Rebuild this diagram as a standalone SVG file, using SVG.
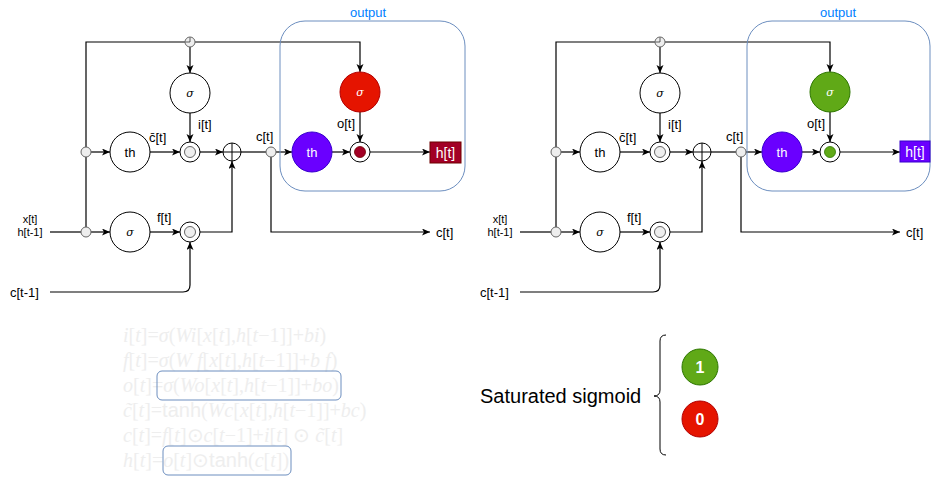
<svg xmlns="http://www.w3.org/2000/svg" width="932" height="477" viewBox="0 0 932 477">
<defs>
<marker id="arr" markerUnits="userSpaceOnUse" markerWidth="9" markerHeight="8" refX="8" refY="3.5" orient="auto">
<path d="M0,0 L8,3.5 L0,7 L2,3.5 z" fill="#000"/>
</marker>
</defs>
<style>
text{font-family:"Liberation Sans",Arial,sans-serif;}
.ln{fill:none;stroke:#000;stroke-width:1.2;}
.a{marker-end:url(#arr);}
.node{fill:#fff;stroke:#000;stroke-width:1;}
.jn{fill:#eee;stroke:#666;stroke-width:1;}
.lbl{font-size:13px;fill:#000;}
.ntx{font-size:13px;text-anchor:middle;}
.sig{font-size:11px;font-style:italic;text-anchor:middle;font-family:"DejaVu Serif","Liberation Serif",serif;}
.box{fill:none;stroke:#6C8EBF;stroke-width:1;}
.out{font-size:13px;fill:#007FFF;text-anchor:middle;}
.eq{font-family:"Liberation Serif","Times New Roman",serif;font-size:20px;fill:#EEEEEE;}
.eq .i{font-style:italic;}
.up{font-family:"Liberation Sans",Arial,sans-serif;}
.wt{fill:#fff;}
</style>

<g id="connectors">
<!-- left -->
<path class="ln" d="M50,232 H81"/>
<path class="ln a" d="M91,232 H110"/>
<path class="ln" d="M86,227 V157 M86,147 V42 H185"/>
<path class="ln a" d="M195,42 H360 V72"/>
<path class="ln a" d="M190,47 V73"/>
<path class="ln a" d="M91,152 H110"/>
<path class="ln a" d="M150,152 H180"/>
<path class="ln a" d="M190,113 V142"/>
<path class="ln a" d="M200,152 H223"/>
<path class="ln" d="M241,152 H266"/>
<path class="ln a" d="M276,152 H292"/>
<path class="ln a" d="M332,152 H350"/>
<path class="ln a" d="M360,112 V142"/>
<path class="ln a" d="M370,152 H430"/>
<path class="ln a" d="M271,157 V232 H430"/>
<path class="ln a" d="M150,232 H180"/>
<path class="ln a" d="M200,232 H232 V161"/>
<path class="ln a" d="M50,292 H183 Q190,292 190,285 V242"/>
<!-- right -->
<path class="ln" d="M520,232 H551"/>
<path class="ln a" d="M561,232 H580"/>
<path class="ln" d="M556,227 V157 M556,147 V42 H655"/>
<path class="ln a" d="M665,42 H830 V72"/>
<path class="ln a" d="M660,47 V73"/>
<path class="ln a" d="M561,152 H580"/>
<path class="ln a" d="M620,152 H650"/>
<path class="ln a" d="M660,113 V142"/>
<path class="ln a" d="M670,152 H693"/>
<path class="ln" d="M711,152 H736"/>
<path class="ln a" d="M746,152 H762"/>
<path class="ln a" d="M802,152 H820"/>
<path class="ln a" d="M830,112 V142"/>
<path class="ln a" d="M840,152 H900"/>
<path class="ln a" d="M741,157 V232 H900"/>
<path class="ln a" d="M620,232 H650"/>
<path class="ln a" d="M670,232 H702 V161"/>
<path class="ln a" d="M520,292 H653 Q660,292 660,285 V242"/>
</g>

<!-- LEFT DIAGRAM -->
<g id="outputBoxL"><rect class="box" x="280" y="21" width="185" height="170" rx="25"/><text class="out" x="368" y="17">output</text></g>
<g id="jTopL"><circle class="jn" cx="190" cy="42" r="5"/><path d="M190,42 V37.5 M190,42 H185.5" stroke="#333" stroke-width="0.8"/></g>
<g id="jMidL"><circle class="jn" cx="86" cy="152" r="5"/></g>
<g id="jBotL"><circle class="jn" cx="86" cy="232" r="5"/></g>
<g id="sigIL"><circle class="node" cx="190" cy="93" r="20"/><text class="sig" x="190" y="97">σ</text></g>
<g id="thL"><circle class="node" cx="130" cy="152" r="20"/><text class="ntx" x="130" y="157">th</text></g>
<g id="mulIL"><circle class="node" cx="190" cy="152" r="10"/><circle class="jn" cx="190" cy="152" r="5.5"/></g>
<g id="plusL"><circle class="node" cx="232" cy="152" r="9"/><path d="M223,152 H241 M232,143 V161" stroke="#000" stroke-width="1"/></g>
<g id="jCL"><circle class="jn" cx="271" cy="152" r="5"/></g>
<g id="thOL"><circle cx="312" cy="152" r="20" fill="#6A00FF" stroke="#3700CC"/><text class="ntx wt" x="312" y="157">th</text></g>
<g id="sigOL"><circle cx="360" cy="92" r="20" fill="#E51400" stroke="#B20000"/><text class="sig wt" x="360" y="96">σ</text></g>
<g id="mulOL"><circle class="node" cx="360" cy="152" r="10"/><circle cx="360" cy="152" r="5.5" fill="#A20025" stroke="#6F0000" stroke-width="0.8"/></g>
<g id="htL"><rect x="430" y="142" width="31" height="21" fill="#A20025" stroke="#6F0000"/><text x="445.5" y="157.5" font-size="14" class="wt" text-anchor="middle">h[t]</text></g>
<g id="sigFL"><circle class="node" cx="130" cy="232" r="20"/><text class="sig" x="130" y="236">σ</text></g>
<g id="mulFL"><circle class="node" cx="190" cy="232" r="10"/><circle class="jn" cx="190" cy="232" r="5.5"/></g>
<g id="labelsL">
<text class="lbl" x="149" y="142">c̄[t]</text>
<text class="lbl" x="198" y="129">i[t]</text>
<text class="lbl" x="337" y="128">o[t]</text>
<text class="lbl" x="256" y="141">c[t]</text>
<text class="lbl" x="157" y="222">f[t]</text>
<text x="30" y="223" font-size="11" text-anchor="middle">x[t]</text>
<text x="30" y="236" font-size="11" text-anchor="middle">h[t-1]</text>
<text x="10" y="297" font-size="13">c[t-1]</text>
<text x="436" y="237" font-size="13">c[t]</text>
</g>

<!-- RIGHT DIAGRAM -->
<g id="outputBoxR"><rect class="box" x="747" y="21" width="183" height="170" rx="25"/><text class="out" x="838" y="17">output</text></g>
<g id="jTopR"><circle class="jn" cx="660" cy="42" r="5"/><path d="M660,42 V37.5 M660,42 H655.5" stroke="#333" stroke-width="0.8"/></g>
<g id="jMidR"><circle class="jn" cx="556" cy="152" r="5"/></g>
<g id="jBotR"><circle class="jn" cx="556" cy="232" r="5"/></g>
<g id="sigIR"><circle class="node" cx="660" cy="93" r="20"/><text class="sig" x="660" y="97">σ</text></g>
<g id="thR"><circle class="node" cx="600" cy="152" r="20"/><text class="ntx" x="600" y="157">th</text></g>
<g id="mulIR"><circle class="node" cx="660" cy="152" r="10"/><circle class="jn" cx="660" cy="152" r="5.5"/></g>
<g id="plusR"><circle class="node" cx="702" cy="152" r="9"/><path d="M693,152 H711 M702,143 V161" stroke="#000" stroke-width="1"/></g>
<g id="jCR"><circle class="jn" cx="741" cy="152" r="5"/></g>
<g id="thOR"><circle cx="782" cy="152" r="20" fill="#6A00FF" stroke="#3700CC"/><text class="ntx wt" x="782" y="157">th</text></g>
<g id="sigOR"><circle cx="830" cy="92" r="20" fill="#60A917" stroke="#2D7600"/><text class="sig wt" x="830" y="96">σ</text></g>
<g id="mulOR"><circle class="node" cx="830" cy="152" r="10"/><circle cx="830" cy="152" r="5.5" fill="#60A917" stroke="#2D7600" stroke-width="0.8"/></g>
<g id="htR"><rect x="900" y="141" width="30" height="21" fill="#6A00FF" stroke="#3700CC"/><text x="915" y="156.5" font-size="14" class="wt" text-anchor="middle">h[t]</text></g>
<g id="sigFR"><circle class="node" cx="600" cy="232" r="20"/><text class="sig" x="600" y="236">σ</text></g>
<g id="mulFR"><circle class="node" cx="660" cy="232" r="10"/><circle class="jn" cx="660" cy="232" r="5.5"/></g>
<g id="labelsR">
<text class="lbl" x="619" y="142">c̄[t]</text>
<text class="lbl" x="668" y="129">i[t]</text>
<text class="lbl" x="807" y="128">o[t]</text>
<text class="lbl" x="726" y="141">c[t]</text>
<text class="lbl" x="627" y="222">f[t]</text>
<text x="500" y="223" font-size="11" text-anchor="middle">x[t]</text>
<text x="500" y="236" font-size="11" text-anchor="middle">h[t-1]</text>
<text x="480" y="297" font-size="13">c[t-1]</text>
<text x="906" y="237" font-size="13">c[t]</text>
</g>

<!-- EQUATIONS -->
<g id="equations">
<text class="eq" x="123" y="342"><tspan class="i">i</tspan>[<tspan class="i">t</tspan>]=<tspan class="i">σ</tspan>(<tspan class="i">Wi</tspan>[<tspan class="i">x</tspan>[<tspan class="i">t</tspan>],<tspan class="i">h</tspan>[<tspan class="i">t</tspan>−1]]+<tspan class="i">bi</tspan>)</text>
<text class="eq" x="123" y="367"><tspan class="i">f</tspan>[<tspan class="i">t</tspan>]=<tspan class="i">σ</tspan>(<tspan class="i">W f</tspan>[<tspan class="i">x</tspan>[<tspan class="i">t</tspan>],<tspan class="i">h</tspan>[<tspan class="i">t</tspan>−1]]+<tspan class="i">b f</tspan>)</text>
<text class="eq" x="123" y="392"><tspan class="i">o</tspan>[<tspan class="i">t</tspan>]=<tspan class="i">σ</tspan>(<tspan class="i">Wo</tspan>[<tspan class="i">x</tspan>[<tspan class="i">t</tspan>],<tspan class="i">h</tspan>[<tspan class="i">t</tspan>−1]]+<tspan class="i">bo</tspan>)</text>
<text class="eq" x="123" y="417"><tspan class="i">c̃</tspan>[<tspan class="i">t</tspan>]=<tspan class="up">tanh</tspan>(<tspan class="i">Wc</tspan>[<tspan class="i">x</tspan>[<tspan class="i">t</tspan>],<tspan class="i">h</tspan>[<tspan class="i">t</tspan>−1]]+<tspan class="i">bc</tspan>)</text>
<text class="eq" x="123" y="442"><tspan class="i">c</tspan>[<tspan class="i">t</tspan>]=<tspan class="i">f</tspan>[<tspan class="i">t</tspan>]⊙<tspan class="i">c</tspan>[<tspan class="i">t</tspan>−1]+<tspan class="i">i</tspan>[<tspan class="i">t</tspan>] ⊙ <tspan class="i">c̃</tspan>[<tspan class="i">t</tspan>]</text>
<text class="eq" x="123" y="467"><tspan class="i">h</tspan>[<tspan class="i">t</tspan>]=<tspan class="i">o</tspan>[<tspan class="i">t</tspan>]⊙<tspan class="up">tanh</tspan>(<tspan class="i">c</tspan>[<tspan class="i">t</tspan>])</text>
</g>
<g id="hlBox1"><rect x="157" y="371" width="184" height="29" rx="5" fill="none" stroke="#6C8EBF"/></g>
<g id="hlBox2"><rect x="163" y="446" width="128" height="29" rx="5" fill="none" stroke="#6C8EBF"/></g>

<!-- LEGEND -->
<g id="legend">
<text x="480" y="403" font-size="20">Saturated sigmoid</text>
<path d="M666,335 Q660,335 660,341 V390 Q660,396 654,396 Q660,396 660,402 V449 Q660,455 666,455" fill="none" stroke="#000" stroke-width="1"/>
</g>
<g id="one"><circle cx="700" cy="367" r="18" fill="#60A917" stroke="#2D7600"/><text x="700" y="373" font-size="16" font-weight="bold" text-anchor="middle" fill="#fff">1</text></g>
<g id="zero"><circle cx="700" cy="419" r="18" fill="#E51400" stroke="#B20000"/><text x="700" y="425" font-size="16" font-weight="bold" text-anchor="middle" fill="#fff">0</text></g>
</svg>
